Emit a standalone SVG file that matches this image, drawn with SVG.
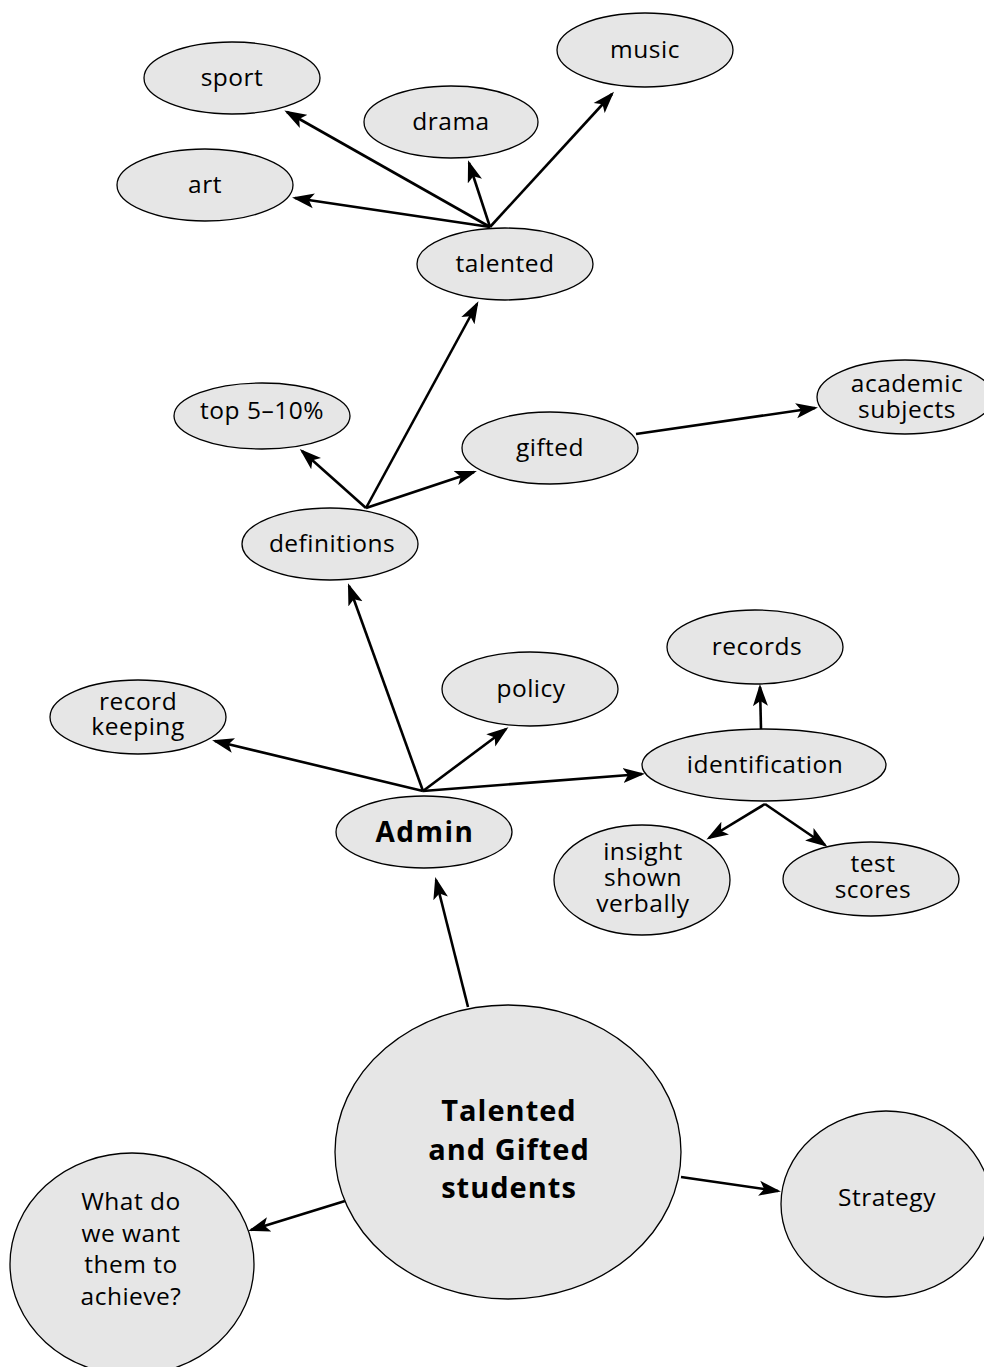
<svg xmlns="http://www.w3.org/2000/svg" width="984" height="1367" viewBox="0 0 984 1367">
<style>
.n{fill:#e6e6e6;stroke:#000;stroke-width:1.3}
.t{font-family:"Open Sans","Noto Sans",sans-serif;font-size:24.5px;letter-spacing:0.5px;fill:#000;text-anchor:middle}
.b{font-weight:bold}
.c line{stroke:#000;stroke-width:2.6;marker-end:url(#ah)}
</style>
<defs>
<marker id="ah" markerUnits="userSpaceOnUse" viewBox="0 -8 22 16" refX="19" refY="0" markerWidth="22" markerHeight="16" orient="auto">
<path d="M0,-7.5 L22,0 L0,7.5 L5,0 Z" fill="#000"/>
</marker>
</defs>
<rect width="984" height="1367" fill="#fff"/>
<g class="c" id="connectors">
<line x1="490" y1="227" x2="287" y2="112"/>
<line x1="490" y1="227" x2="295" y2="198"/>
<line x1="490" y1="227" x2="469" y2="163"/>
<line x1="490" y1="227" x2="612" y2="94"/>
<line x1="366" y1="508" x2="477" y2="304"/>
<line x1="366" y1="508" x2="302" y2="451"/>
<line x1="366" y1="508" x2="474" y2="472"/>
<line x1="636" y1="434" x2="815" y2="408"/>
<line x1="423" y1="791" x2="349" y2="586"/>
<line x1="423" y1="791" x2="215" y2="741"/>
<line x1="423" y1="791" x2="506" y2="729"/>
<line x1="423" y1="791" x2="642" y2="774"/>
<line x1="761" y1="729" x2="760" y2="687"/>
<line x1="765" y1="804" x2="709" y2="838"/>
<line x1="765" y1="804" x2="825" y2="845"/>
<line x1="468" y1="1007" x2="436" y2="880"/>
<line x1="345" y1="1201" x2="251" y2="1230"/>
<line x1="681" y1="1177" x2="778" y2="1191"/>
</g>
<g id="sport"><ellipse class="n" cx="232" cy="78" rx="88" ry="36"/><text class="t" x="232" y="86">sport</text></g>
<g id="drama"><ellipse class="n" cx="451" cy="122" rx="87" ry="36"/><text class="t" x="451" y="130">drama</text></g>
<g id="music"><ellipse class="n" cx="645" cy="50" rx="88" ry="37"/><text class="t" x="645" y="58">music</text></g>
<g id="art"><ellipse class="n" cx="205" cy="185" rx="88" ry="36"/><text class="t" x="205" y="193">art</text></g>
<g id="talented"><ellipse class="n" cx="505" cy="264" rx="88" ry="36"/><text class="t" x="505" y="272">talented</text></g>
<g id="top"><ellipse class="n" cx="262" cy="416" rx="88" ry="33"/><text class="t" x="262" y="419">top 5–10%</text></g>
<g id="gifted"><ellipse class="n" cx="550" cy="448" rx="88" ry="36"/><text class="t" x="550" y="456">gifted</text></g>
<g id="academic"><ellipse class="n" cx="905" cy="397" rx="88" ry="37"/><text class="t" x="907" y="392">academic</text><text class="t" x="907" y="418">subjects</text></g>
<g id="definitions"><ellipse class="n" cx="330" cy="544" rx="88" ry="36"/><text class="t" x="332" y="552">definitions</text></g>
<g id="policy"><ellipse class="n" cx="530" cy="689" rx="88" ry="37"/><text class="t" x="531" y="697">policy</text></g>
<g id="recordkeeping"><ellipse class="n" cx="138" cy="717" rx="88" ry="37"/><text class="t" x="138" y="710">record</text><text class="t" x="138" y="735">keeping</text></g>
<g id="records"><ellipse class="n" cx="755" cy="647" rx="88" ry="37"/><text class="t" x="757" y="655">records</text></g>
<g id="identification"><ellipse class="n" cx="764" cy="765" rx="122" ry="36"/><text class="t" x="765" y="773">identification</text></g>
<g id="admin"><ellipse class="n" cx="424" cy="832" rx="88" ry="36"/><text class="t b" x="425" y="842" style="font-size:28px;letter-spacing:1.5px">Admin</text></g>
<g id="insight"><ellipse class="n" cx="642" cy="880" rx="88" ry="55"/><text class="t" x="643" y="860">insight</text><text class="t" x="643" y="886">shown</text><text class="t" x="643" y="912">verbally</text></g>
<g id="testscores"><ellipse class="n" cx="871" cy="879" rx="88" ry="37"/><text class="t" x="873" y="872">test</text><text class="t" x="873" y="898">scores</text></g>
<g id="tgs"><ellipse class="n" cx="508" cy="1152" rx="173" ry="147"/><text class="t b" x="509" y="1121" style="font-size:29px;letter-spacing:1px">Talented</text><text class="t b" x="509" y="1160" style="font-size:29px;letter-spacing:1px">and Gifted</text><text class="t b" x="509" y="1198" style="font-size:29px;letter-spacing:1px">students</text></g>
<g id="achieve"><ellipse class="n" cx="132" cy="1264" rx="122" ry="111"/><text class="t" x="131" y="1210">What do</text><text class="t" x="131" y="1242">we want</text><text class="t" x="131" y="1273">them to</text><text class="t" x="131" y="1305">achieve?</text></g>
<g id="strategy"><ellipse class="n" cx="886" cy="1204" rx="105" ry="93"/><text class="t" x="887" y="1206">Strategy</text></g>
</svg>
